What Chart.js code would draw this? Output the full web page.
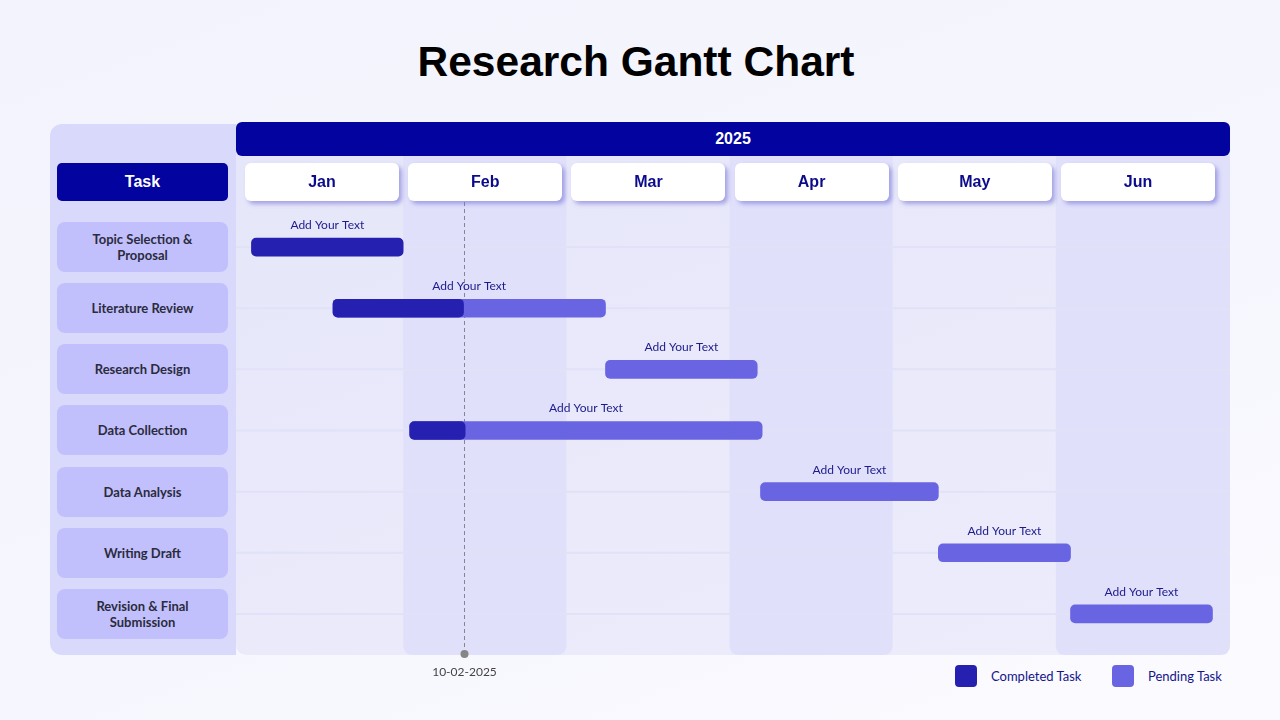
<!DOCTYPE html>
<html>
<head>
<meta charset="utf-8">
<title>Research Gantt Chart</title>
<script src="https://cdn.jsdelivr.net/npm/chart.js@4.4.1/dist/chart.umd.min.js"></script>
<style>
  html, body { margin: 0; padding: 0; }
  body {
    width: 1280px; height: 720px; position: relative; overflow: hidden;
    background: linear-gradient(160deg, #f3f3fd 0%, #f6f6fe 60%, #fbfbff 100%);
    font-family: Lato, "Noto Sans", sans-serif;
  }
  h1 {
    position: absolute; left: 0; top: 38px; width: 1272px; margin: 0;
    text-align: center; font: bold 42.5px "Liberation Sans", Arial, sans-serif; color: #000;
  }
  .leftPanel {
    position: absolute; left: 50px; top: 124px; width: 186px; height: 531px;
    background: #d9d9fc; border-radius: 12px 0 0 12px;
  }
  .chartPanel {
    position: absolute; left: 236px; top: 124px; width: 994px; height: 531px;
    background: linear-gradient(160deg, #e6e6fa 0%, #eaeafb 60%, #ececfb 100%);
    border-radius: 0 10px 10px 10px;
  }
  .yearBar {
    position: absolute; left: 236px; top: 122px; width: 994px; height: 34px;
    background: #0303a0; border-radius: 6px; color: #fff;
    font: bold 16px "Liberation Sans", Arial, sans-serif;
    display: flex; align-items: center; justify-content: center;
  }
  .taskHead {
    position: absolute; left: 57px; top: 163px; width: 171px; height: 38px;
    background: #0303a0; border-radius: 5px; color: #fff;
    font: bold 16px "Liberation Sans", Arial, sans-serif;
    display: flex; align-items: center; justify-content: center;
  }
  .taskBox {
    position: absolute; left: 57px; width: 171px; height: 50px;
    background: #c1c0fc; border-radius: 8px; color: #2b2b3c;
    font-weight: bold; font-size: 13px; line-height: 16px; text-align: center;
    display: flex; align-items: center; justify-content: center;
  }
  .monthBox {
    position: absolute; top: 163px; width: 154px; height: 38px; z-index: 2;
    background: #fff; border-radius: 6px; color: #0b0b8c;
    box-shadow: 3px 3px 4px rgba(110, 105, 210, 0.55);
    font: bold 16px "Liberation Sans", Arial, sans-serif;
    display: flex; align-items: center; justify-content: center;
  }
  #wrap { position: absolute; left: 236px; top: 156px; width: 994px; height: 534px; z-index: 1; }
  .legend { position: absolute; top: 665px; display: flex; align-items: center; font-size: 13px; color: #15158a; }
  .legend span.sw { width: 22px; height: 22px; border-radius: 4px; margin-right: 14px; display: inline-block; }
</style>
</head>
<body>
<h1>Research Gantt Chart</h1>
<div class="leftPanel"></div>
<div class="chartPanel"></div>
<div class="yearBar" id="year"></div>
<div class="taskHead">Task</div>
<div id="wrap"><canvas id="gantt"></canvas></div>
<div id="labels"></div>
<div class="legend" style="left:955px"><span class="sw" style="background:#2620b0"></span>Completed Task</div>
<div class="legend" style="left:1112px"><span class="sw" style="background:#6964e2"></span>Pending Task</div>

<script>
// data, positions in month units (0 = start of Jan)
const yearLabel = '2025';
const months = ['Jan', 'Feb', 'Mar', 'Apr', 'May', 'Jun'];
const tasks = ['Topic Selection & Proposal', 'Literature Review', 'Research Design', 'Data Collection',
               'Data Analysis', 'Writing Draft', 'Revision & Final Submission'];
const taskLines = [['Topic Selection &', 'Proposal'], ['Literature Review'], ['Research Design'], ['Data Collection'],
                   ['Data Analysis'], ['Writing Draft'], ['Revision & Final', 'Submission']];
const taskStart = [0.07, 0.57, 2.24, 1.04, 3.19, 4.28, 5.09];
const taskEnd   = [1.00, 2.24, 3.17, 3.20, 4.28, 5.09, 5.96];
const doneEnd   = [1.00, 1.37, null, 1.38, null, null, null];
const barNotes  = ['Add Your Text', 'Add Your Text', 'Add Your Text', 'Add Your Text',
                   'Add Your Text', 'Add Your Text', 'Add Your Text'];
const todayPos = 1.37;
const todayLabel = '10-02-2025';
const shadedMonths = [1, 3, 5];

const doneColor = '#2620b0';
const pendColor = '#6964e2';

document.getElementById('year').textContent = yearLabel;

// left task boxes + month headers
let lab = document.getElementById('labels');
taskLines.forEach((lines, i) => {
    let d = document.createElement('div');
    d.className = 'taskBox';
    d.style.top = (222 + i * 61.15) + 'px';
    d.innerHTML = lines.join('<br>');
    lab.appendChild(d);
});
months.forEach((m, i) => {
    let d = document.createElement('div');
    d.className = 'monthBox';
    d.style.left = (245 + i * 163.2) + 'px';
    d.textContent = m;
    lab.appendChild(d);
});

const doneData = taskStart.map((s, i) => doneEnd[i] === null ? null : [s, doneEnd[i]]);
const pendData = taskStart.map((s, i) => (doneEnd[i] !== null && doneEnd[i] >= taskEnd[i]) ? null : [s, taskEnd[i]]);

function roundBottomRect(ctx, x, y, w, h, r) {
    ctx.beginPath();
    ctx.moveTo(x, y);
    ctx.lineTo(x + w, y);
    ctx.lineTo(x + w, y + h - r);
    ctx.quadraticCurveTo(x + w, y + h, x + w - r, y + h);
    ctx.lineTo(x + r, y + h);
    ctx.quadraticCurveTo(x, y + h, x, y + h - r);
    ctx.closePath();
}

const backdrop = {
    id: 'backdrop',
    beforeDatasetsDraw(chart) {
        const ctx = chart.ctx, xs = chart.scales.x, ys = chart.scales.y;
        const bottom = chart.chartArea.bottom + 10.5;
        ctx.save();
        ctx.fillStyle = '#e0e0fb';
        shadedMonths.forEach(m => {
            let x0 = xs.getPixelForValue(m);
            let x1 = m + 1 >= months.length ? chart.width : xs.getPixelForValue(m + 1);
            roundBottomRect(ctx, x0, 0, x1 - x0, bottom, 10);
            ctx.fill();
        });
        // row lines
        ctx.strokeStyle = '#e1e1f7';
        ctx.lineWidth = 2;
        tasks.forEach((t, i) => {
            let y = ys.getPixelForValue(i);
            ctx.beginPath();
            ctx.moveTo(0, y);
            ctx.lineTo(chart.width, y);
            ctx.stroke();
        });
        // today marker
        let tx = Math.round(xs.getPixelForValue(todayPos)) + 0.5;
        ctx.strokeStyle = '#85859a';
        ctx.lineWidth = 1;
        ctx.setLineDash([4, 3]);
        ctx.beginPath();
        ctx.moveTo(tx, 46);
        ctx.lineTo(tx, bottom - 1);
        ctx.stroke();
        ctx.setLineDash([]);
        ctx.fillStyle = '#868686';
        ctx.beginPath();
        ctx.arc(tx, bottom - 1, 4, 0, Math.PI * 2);
        ctx.fill();
        ctx.fillStyle = '#444';
        ctx.font = '12px Lato';
        ctx.textAlign = 'center';
        ctx.textBaseline = 'middle';
        ctx.fillText(todayLabel, tx, bottom + 17);
        ctx.restore();
    },
    afterDatasetsDraw(chart) {
        const ctx = chart.ctx, xs = chart.scales.x, ys = chart.scales.y;
        ctx.save();
        ctx.fillStyle = '#1d1a8c';
        ctx.font = '12px Lato';
        ctx.textAlign = 'center';
        ctx.textBaseline = 'middle';
        tasks.forEach((t, i) => {
            let cx = (xs.getPixelForValue(taskStart[i]) + xs.getPixelForValue(taskEnd[i])) / 2;
            ctx.fillText(barNotes[i], cx, ys.getPixelForValue(i) - 22);
        });
        ctx.restore();
    }
};

new Chart(document.getElementById('gantt'), {
    type: 'bar',
    data: {
        labels: tasks,
        datasets: [
            {
                label: 'Completed Task',
                data: doneData,
                backgroundColor: doneColor,
                grouped: false,
                barThickness: 18,
                borderRadius: 5,
                borderSkipped: false
            },
            {
                label: 'Pending Task',
                data: pendData,
                backgroundColor: pendColor,
                grouped: false,
                barThickness: 18,
                borderRadius: 5,
                borderSkipped: false
            }
        ]
    },
    options: {
        indexAxis: 'y',
        responsive: true,
        maintainAspectRatio: false,
        animation: false,
        layout: { padding: { left: 4, right: 11, top: 60.5, bottom: 45.5 } },
        plugins: {
            legend: { display: false },
            tooltip: { enabled: false }
        },
        scales: {
            x: { type: 'linear', min: 0, max: 6, display: false },
            y: { display: false, offset: true }
        }
    },
    plugins: [backdrop]
});
</script>
</body>
</html>
